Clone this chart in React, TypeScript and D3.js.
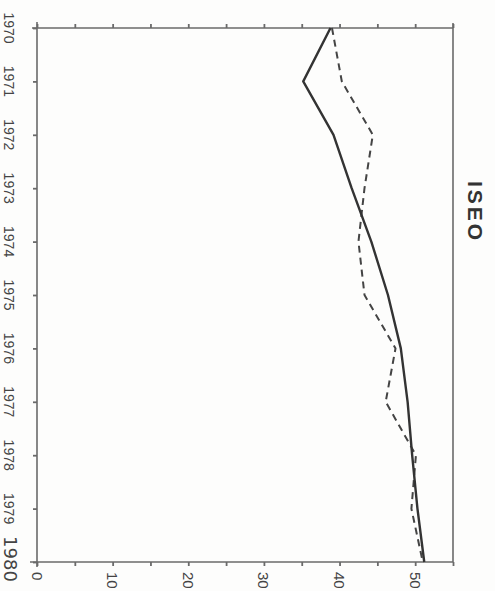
import React, { useEffect, useRef } from 'react';
import * as d3 from 'd3';

const years = [1970, 1971, 1972, 1973, 1974, 1975, 1976, 1977, 1978, 1979, 1980];
const solidSeries = [38.8, 35.2, 39.2, 41.6, 44.2, 46.4, 48.1, 49.0, 49.6, 50.3, 51.2];
const dashedSeries = [39.0, 40.3, 44.4, 43.3, 42.5, 43.3, 47.4, 46.1, 50.1, 49.5, 51.0];
const valueTicks = [0, 10, 20, 30, 40, 50];
const minorTicks = [0, 5, 10, 15, 20, 25, 30, 35, 40, 45, 50, 55];
const title = 'ISEO';

const W = 495;
const H = 591;

const App: React.FC = () => {
  const svgRef = useRef<SVGSVGElement>(null);

  useEffect(() => {
    if (!svgRef.current) return;
    const svg = d3.select(svgRef.current);
    svg.selectAll('*').remove();

    const axisColor = '#6a6a6a';
    const lineColor = '#333';
    const textColor = '#444';

    // chart is drawn turned a quarter clockwise: years run down, values run right
    const yearScale = d3.scaleLinear().domain([1970, 1980]).range([28, 562]);
    const valueScale = d3.scaleLinear().domain([0, 55]).range([37, 453]);

    svg.append('rect').attr('width', W).attr('height', H).attr('fill', '#fdfdfc');

    const x0 = valueScale(0);
    const x1 = valueScale(55);
    const y0 = yearScale(1970);
    const y1 = yearScale(1980);

    // frame
    const frame = svg.append('g').attr('stroke', axisColor).attr('stroke-width', 1.6).attr('fill', 'none');
    frame.append('line').attr('x1', x0).attr('y1', y0 - 6).attr('x2', x0).attr('y2', y1 + 5);
    frame.append('line').attr('x1', x0 - 5).attr('y1', y0).attr('x2', x1).attr('y2', y0);
    frame.append('line').attr('x1', x0 - 7).attr('y1', y1).attr('x2', x1).attr('y2', y1);
    frame.append('line').attr('x1', x1).attr('y1', y0 - 5).attr('x2', x1).attr('y2', y1);

    // year ticks (left)
    const yearAxis = d3.axisLeft(yearScale).tickValues(years).tickSize(4).tickSizeOuter(0).tickFormat(() => '');
    const ya = svg.append('g').attr('transform', `translate(${x0},0)`).call(yearAxis);
    ya.select('.domain').remove();
    ya.selectAll('line').attr('stroke', axisColor).attr('stroke-width', 1.8);

    // value ticks bottom and top
    const bottomAxis = d3.axisBottom(valueScale).tickValues(minorTicks).tickSize(4).tickSizeOuter(0).tickFormat(() => '');
    const ba = svg.append('g').attr('transform', `translate(0,${y1})`).call(bottomAxis);
    ba.select('.domain').remove();
    ba.selectAll('line').attr('stroke', axisColor).attr('stroke-width', 1.8);

    const topAxis = d3.axisTop(valueScale).tickValues(minorTicks).tickSize(4).tickSizeOuter(0).tickFormat(() => '');
    const ta = svg.append('g').attr('transform', `translate(0,${y0})`).call(topAxis);
    ta.select('.domain').remove();
    ta.selectAll('line').attr('stroke', axisColor).attr('stroke-width', 1.8);

    // year labels
    years.forEach((yr) => {
      const big = yr === 1980;
      const lx = big ? 10 : 9;
      const ly = big ? yearScale(yr) - 3 : yearScale(yr);
      svg.append('text')
        .attr('x', lx)
        .attr('y', ly)
        .attr('transform', `rotate(90,${lx},${ly})`)
        .attr('text-anchor', 'middle')
        .attr('dominant-baseline', 'central')
        .attr('font-family', big ? 'DejaVu Sans' : 'Liberation Sans, Arial, sans-serif')
        .attr('font-size', big ? 18 : 14)
        .attr('fill', textColor)
        .text(String(yr));
    });

    // value labels
    valueTicks.forEach((v) => {
      const lx = valueScale(v);
      const ly = y1 + 10;
      svg.append('text')
        .attr('x', lx)
        .attr('y', ly)
        .attr('transform', `rotate(90,${lx},${ly})`)
        .attr('text-anchor', 'start')
        .attr('dominant-baseline', 'central')
        .attr('font-family', 'Liberation Sans, Arial, sans-serif')
        .attr('font-size', 15)
        .attr('fill', textColor)
        .text(String(v));
    });

    // series
    const line = d3.line<number>()
      .x((d) => valueScale(d))
      .y((_, i) => yearScale(years[i]));

    svg.append('path')
      .attr('d', line(dashedSeries) || '')
      .attr('fill', 'none')
      .attr('stroke', '#444')
      .attr('stroke-width', 2)
      .attr('stroke-dasharray', '7,5');

    svg.append('path')
      .attr('d', line(solidSeries) || '')
      .attr('fill', 'none')
      .attr('stroke', lineColor)
      .attr('stroke-width', 2.4)
      .attr('stroke-linejoin', 'round');

    // title
    const tx = 475;
    const ty = 212;
    svg.append('text')
      .attr('x', tx)
      .attr('y', ty)
      .attr('transform', `rotate(90,${tx},${ty})`)
      .attr('text-anchor', 'middle')
      .attr('dominant-baseline', 'central')
      .attr('font-family', 'Liberation Sans, Arial, sans-serif')
      .attr('font-weight', 'bold')
      .attr('font-size', 21)
      .attr('letter-spacing', 3)
      .attr('fill', '#333')
      .text(title);
  }, []);

  return (
    <svg
      ref={svgRef}
      width={W}
      height={H}
      style={{ position: 'absolute', left: 0, top: 0 }}
    />
  );
};

export default App;
